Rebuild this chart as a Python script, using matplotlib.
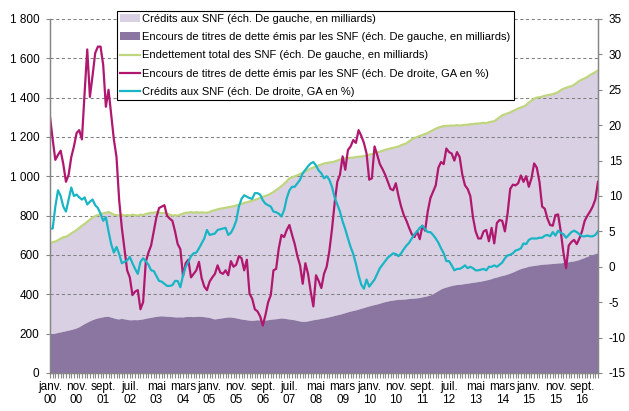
import numpy as np
import matplotlib.pyplot as plt
from matplotlib.ticker import FuncFormatter, MultipleLocator

plt.rcParams['font.family'] = ['Liberation Sans', 'DejaVu Sans']
plt.rcParams['axes.unicode_minus'] = False

# encours de titres de dette (milliards), janv. 2000 -> mars 2017
titres = [196, 197, 200, 203, 206, 209, 212, 215, 218, 222, 226, 232,
          240, 248, 255, 262, 268, 273, 277, 280, 283, 285, 286, 282,
          278, 274, 272, 275, 273, 270, 268, 268, 269, 268, 270, 272,
          275, 278, 280, 283, 285, 287, 288, 287, 286, 285, 284, 283,
          282, 283, 282, 284, 285, 285, 284, 285, 286, 285, 284, 282,
          280, 276, 272, 274, 276, 278, 280, 282, 282, 280, 278, 275,
          272, 270, 268, 266, 265, 266, 268, 267, 266, 266, 268, 270,
          272, 273, 275, 277, 276, 274, 272, 270, 268, 265, 262, 260,
          260, 262, 265, 268, 270, 272, 275, 277, 280, 283, 286, 290,
          293, 296, 300, 304, 308, 312, 315, 318, 322, 326, 330, 334,
          338, 342, 345, 348, 352, 356, 360, 363, 366, 368, 370, 372,
          372, 373, 374, 376, 377, 378, 379, 381, 384, 387, 390, 394,
          400, 408, 416, 424, 430, 434, 438, 442, 445, 447, 448, 450,
          452, 454, 456, 458, 460, 462, 464, 467, 470, 473, 477, 482,
          485, 489, 493, 496, 500, 505, 510, 516, 522, 528, 532, 535,
          540, 542, 544, 546, 548, 550, 551, 552, 553, 554, 555, 557,
          557, 559, 561, 563, 565, 567, 570, 574, 579, 584, 590, 595,
          600, 604, 608]

# endettement total (milliards)
endettement = [660, 665, 668, 675, 683, 690, 693, 700, 710, 718, 727, 738,
               748, 758, 769, 780, 790, 798, 803, 808, 812, 815, 818, 812,
               805, 803, 800, 805, 800, 803, 800, 805, 802, 800, 805, 803,
               808, 812, 815, 815, 818, 815, 812, 815, 810, 805, 800, 802,
               800, 805, 810, 815, 815, 818, 815, 818, 815, 817, 815, 815,
               818, 825, 828, 832, 835, 838, 840, 843, 845, 848, 852, 855,
               860, 865, 868, 872, 876, 880, 885, 890, 896, 900, 905, 912,
               920, 930, 939, 950, 962, 975, 990, 995, 1000, 1005, 1012, 1018,
               1025, 1032, 1040, 1045, 1049, 1055, 1060, 1065, 1068, 1070, 1072, 1075,
               1080, 1085, 1088, 1092, 1092, 1095, 1095, 1098, 1100, 1100, 1103, 1106,
               1110, 1113, 1118, 1122, 1125, 1130, 1135, 1138, 1142, 1145, 1148, 1152,
               1158, 1163, 1168, 1178, 1188, 1195, 1200, 1205, 1210, 1215, 1220, 1228,
               1235, 1242, 1248, 1252, 1255, 1256, 1257, 1258, 1258, 1260, 1258, 1260,
               1262, 1262, 1265, 1265, 1268, 1268, 1270, 1272, 1270, 1275, 1278, 1280,
               1290, 1300, 1310, 1315, 1320, 1325, 1332, 1338, 1345, 1350, 1355, 1362,
               1375, 1385, 1395, 1400, 1402, 1405, 1410, 1412, 1415, 1418, 1422, 1428,
               1438, 1445, 1450, 1455, 1458, 1465, 1475, 1485, 1492, 1498, 1505, 1515,
               1522, 1530, 1538]

# glissement annuel des titres (%)
ga_titres = [21.2, 18.0, 15.1, 15.8, 16.4, 14.5, 12.0, 13.0, 15.5, 17.0, 18.9, 19.3,
             18.0, 24.5, 30.7, 24.0, 27.0, 30.2, 31.1, 31.1, 28.5, 22.6, 25.0, 21.5,
             18.0, 15.5, 9.4, 5.5, 2.5, -0.5, -1.5, -4.0, -3.5, -3.3, -6.0, -5.0,
             0.7, 2.0, 3.0, 5.0, 7.0, 8.3, 8.5, 8.7, 7.2, 6.8, 6.5, 5.0,
             3.2, 2.5, -1.3, 0.5, 1.0, -1.5, -1.0, -0.5, 0.7, -1.6, -2.8, -3.3,
             -2.1, -1.5, -1.0, 0.2, -0.8, -1.0, -0.5, -1.2, 0.8, 0.0, 0.3, 1.5,
             1.2, -0.5, 1.0, -3.8, -4.5, -6.0, -6.3, -7.0, -8.3, -6.8, -5.0, -4.0,
             -0.5, -0.3, 2.6, 4.5, 4.2, 5.2, 5.9, 4.5, 3.2, 1.5, 0.2, -2.4,
             0.5, -1.0, -3.5, -5.6, -1.2, -2.0, -3.0, -1.0, 0.0, 2.2, 5.3, 9.0,
             12.0, 13.0, 15.6, 13.7, 16.5, 17.0, 17.9, 17.5, 19.3, 18.5, 17.5, 16.0,
             12.3, 12.5, 17.0, 15.8, 14.5, 13.8, 13.0, 12.0, 11.0, 10.8, 11.8, 10.0,
             8.5, 7.3, 6.5, 5.5, 4.6, 4.2, 5.0, 3.9, 5.8, 5.1, 7.8, 9.7,
             10.6, 11.5, 14.0, 14.8, 14.5, 16.7, 16.2, 16.0, 15.0, 16.2, 15.5, 13.0,
             11.5, 11.0, 10.0, 7.0, 5.0, 4.0, 4.0, 5.0, 5.2, 3.6, 5.5, 3.3,
             6.2, 6.6, 6.5, 5.0, 7.5, 11.0, 11.6, 11.5, 11.8, 12.9, 12.0, 12.8,
             11.3, 12.5, 14.6, 14.0, 12.0, 8.5, 8.2, 6.8, 5.9, 5.8, 7.3, 7.4,
             5.0, 2.0, -0.2, 3.0, 3.5, 3.8, 3.2, 4.0, 5.0, 6.5, 7.2, 7.8,
             8.5, 9.5, 12.0]

# glissement annuel des credits (%)
ga_credits = [5.4, 5.4, 8.5, 10.8, 10.0, 8.5, 7.8, 9.5, 11.2, 10.0, 10.2, 9.8,
              9.5, 9.8, 8.8, 9.2, 9.5, 8.7, 8.3, 7.5, 6.5, 7.0, 5.0, 3.2,
              2.0, 2.8, 1.8, 0.5, 0.7, 0.9, 1.4, 0.5, -0.3, -1.0, 0.7, 1.2,
              0.8, 0.3, -0.5, -0.6, -1.3, -2.0, -2.1, -2.4, -2.7, -2.7, -2.6, -2.0,
              -2.0, -2.9, -1.2, 0.0, 0.7, 1.5, 1.9, 2.0, 2.6, 3.3, 4.0, 5.2,
              4.5, 4.6, 4.7, 5.2, 5.3, 5.4, 5.5, 4.5, 4.8, 5.5, 6.5, 8.5,
              9.6, 10.1, 9.9, 9.7, 9.6, 10.4, 10.4, 10.2, 9.4, 8.9, 8.7, 8.5,
              7.8, 7.7, 7.5, 7.1, 8.0, 9.7, 10.8, 11.3, 11.3, 11.8, 12.3, 13.2,
              13.7, 14.2, 14.6, 14.8, 14.3, 13.6, 13.2, 12.5, 12.8, 12.3, 11.3, 9.8,
              8.8, 7.8, 6.4, 5.3, 4.0, 2.8, 1.8, 0.4, -1.2, -2.5, -3.1, -1.8,
              -2.8, -2.3, -1.8, -1.0, -0.2, 0.3, 0.8, 1.3, 1.6, 1.9, 1.8, 1.5,
              1.9, 2.5, 3.0, 3.4, 4.0, 4.6, 5.0, 5.5, 5.8, 5.3, 4.9, 4.9,
              4.5, 4.0, 3.4, 2.6, 1.9, 0.8, 0.8, 0.2, -0.5, -0.3, -0.3, -0.1,
              0.2, -0.2, 0.0, -0.2, -0.5, -0.5, -0.4, -0.3, -0.5, 0.0, 0.0, 0.2,
              0.0, 0.3, 0.6, 1.2, 1.6, 1.7, 1.9, 2.3, 2.4, 2.6, 3.3, 3.2,
              3.8, 4.0, 4.0, 4.0, 4.1, 4.1, 4.4, 4.5, 4.3, 4.9, 4.4, 5.1,
              4.8, 4.6, 4.1, 4.5, 4.9, 5.1, 4.9, 4.6, 4.3, 4.3, 4.4, 4.3,
              4.3, 4.5, 5.0]

tick_labels = ['janv.\n00', 'nov.\n00', 'sept.\n01', 'juil.\n02', 'mai\n03',
               'mars\n04', 'janv.\n05', 'nov.\n05', 'sept.\n06', 'juil.\n07',
               'mai\n08', 'mars\n09', 'janv.\n10', 'nov.\n10', 'sept.\n11',
               'juil.\n12', 'mai\n13', 'mars\n14', 'janv.\n15', 'nov.\n15',
               'sept.\n16']

labels = ['Crédits aux SNF (éch. De gauche, en milliards)',
          'Encours de titres de dette émis par les SNF (éch. De gauche, en milliards)',
          'Endettement total des SNF (éch. De gauche, en milliards)',
          'Encours de titres de dette émis par les SNF (éch. De droite, GA en %)',
          'Crédits aux SNF (éch. De droite, GA en %)']

x = np.arange(len(titres))
credits = np.array(endettement) - np.array(titres)
grey = '#868686'

fig = plt.figure(figsize=(6.29, 4.11), dpi=100)
ax = fig.add_axes([0.0795, 0.0925, 0.8712, 0.8613])

polys = ax.stackplot(x, titres, credits, colors=['#8a76a1', '#d9d1e3'],
                     labels=[labels[1], labels[0]])
polys[0].set_zorder(2)
ax.plot(x, endettement, color='#bfd67e', lw=1.6, zorder=3, label=labels[2])

ax.set_xlim(0, len(x) - 1)
ax.set_ylim(0, 1800)
ax.yaxis.set_major_locator(MultipleLocator(200))
ax.yaxis.set_major_formatter(FuncFormatter(lambda v, p: f'{v:,.0f}'.replace(',', ' ')))
ax.set_xticks(np.arange(0, len(x), 10))
ax.set_xticklabels(tick_labels)
ax.xaxis.set_minor_locator(MultipleLocator(1))
ax.set_axisbelow('line')
ax.yaxis.grid(True, color='#7f7f7f', lw=0.75, ls=(0, (3, 2.5)))

ax2 = ax.twinx()
ax2.plot(x, ga_titres, color='#b0176e', lw=1.6, label=labels[3])
ax2.plot(x, ga_credits, color='#19b5c5', lw=1.6, label=labels[4])
ax2.set_ylim(-15, 35)
ax2.yaxis.set_major_locator(MultipleLocator(5))

for a in (ax, ax2):
    a.spines['top'].set_visible(False)
    for s in ('left', 'right', 'bottom'):
        a.spines[s].set_color(grey)
        a.spines[s].set_linewidth(0.9)
    a.tick_params(which='both', direction='out', color=grey, width=0.8,
                  labelsize=8.5, labelcolor='black')
ax.tick_params(axis='x', which='both', length=3.5, pad=2)
ax.tick_params(axis='y', length=3.2, pad=4.5)
ax2.tick_params(axis='y', length=2.6, pad=5.2)

h1, l1 = ax.get_legend_handles_labels()
h2, l2 = ax2.get_legend_handles_labels()
handles = [h1[1], h1[0], h1[2], h2[0], h2[1]]
leg = fig.legend(handles, labels, loc='upper left', bbox_to_anchor=(0.186, 0.974),
                 bbox_transform=fig.transFigure, fontsize=8, frameon=True,
                 fancybox=False, framealpha=1, edgecolor='black', borderaxespad=0,
                 borderpad=0.3, handlelength=1.8, handleheight=0.7,
                 handletextpad=0.15, labelspacing=0.74)
leg.get_frame().set_linewidth(0.8)

fig.savefig('out.png', dpi=100)
